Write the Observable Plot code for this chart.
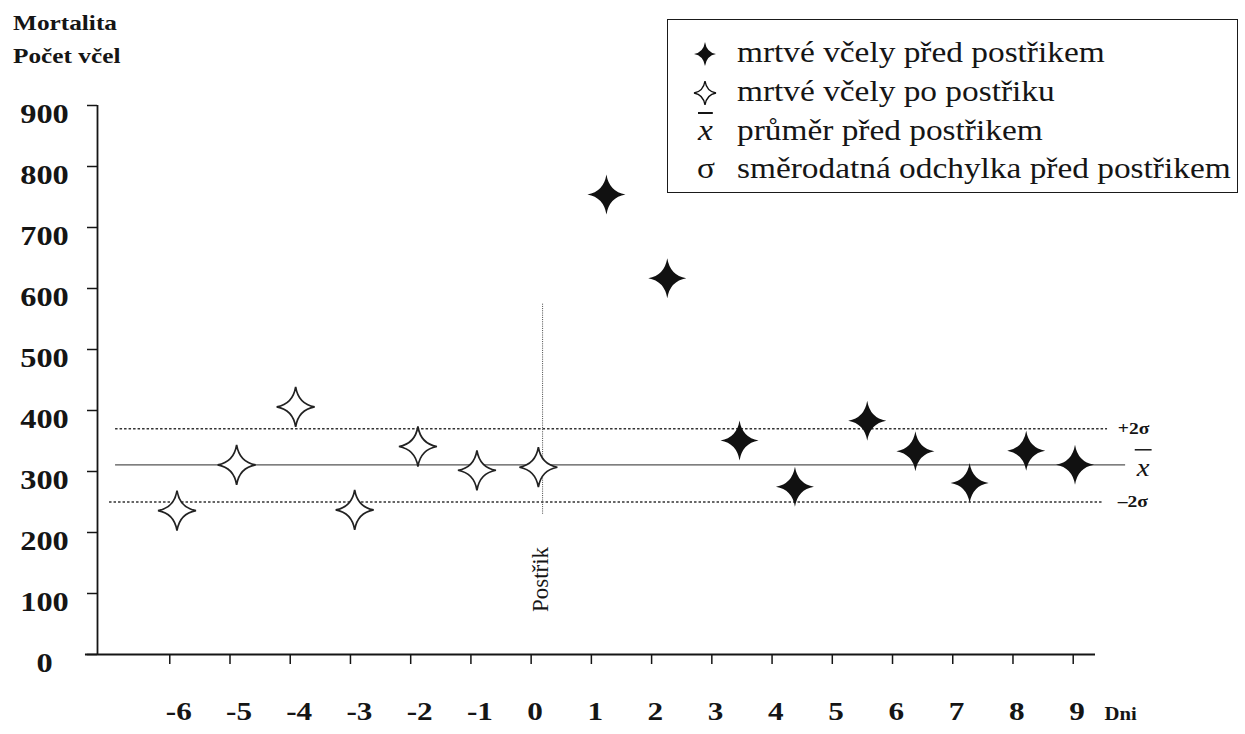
<!DOCTYPE html>
<html><head><meta charset="utf-8">
<script src="https://cdn.jsdelivr.net/npm/d3@7"></script>
<script src="https://cdn.jsdelivr.net/npm/@observablehq/plot@0.6"></script>
<style>
body{margin:0;background:#fff}
#wrap{position:relative;width:1245px;height:734px;overflow:hidden;background:#fff;font-family:"Liberation Serif","Times New Roman",serif;color:#151515}
#chart{position:absolute;left:0;top:0}
.lbl{position:absolute;white-space:nowrap;line-height:1;transform-origin:0 0;font-family:"Liberation Serif","Times New Roman",serif;color:#151515}
#legend{position:absolute;left:667px;top:19px;width:571px;height:174px;border:1.7px solid #1a1a1a;box-sizing:border-box}
</style></head><body>
<div id="wrap"><div id="chart"></div></div>
<script>
// ---------- data ----------
const titleLines = ["Mortalita", "Počet včel"];
const xTicks = [-6, -5, -4, -3, -2, -1, 0, 1, 2, 3, 4, 5, 6, 7, 8, 9];
const yTicks = [0, 100, 200, 300, 400, 500, 600, 700, 800, 900];
const xAxisTitle = "Dni";

// open stars (days -6 .. 0)
const daysOpen = [-5.88, -4.89, -3.91, -2.93, -1.88, -0.90, 0.12];
const beesOpen = [236, 311, 406, 237, 341, 302, 307];
// filled stars (days 1 .. 9)
const daysFilled = [1.25, 2.26, 3.46, 4.38, 5.58, 6.38, 7.28, 8.22, 9.03];
const beesFilled = [754, 617, 351, 275, 383, 333, 281, 334, 311];

// reference levels
const meanValue = 311;
const plus2Sigma = 370;
const minus2Sigma = 250;
const levelLabels = ["+2σ", "x", "–2σ"];

// spray marker
const sprayDay = 0.19;
const sprayRange = [230, 575];
const sprayLabel = "Postřik";
const sprayLabelValue = 123;

const legendLabels = [
  "mrtvé včely před postřikem",
  "mrtvé včely po postřiku",
  "průměr před postřikem",
  "směrodatná odchylka před postřikem"
];

// ---------- layout ----------
const xDomain = [-7.2, 9.4];
const xAxisExtent = [-7.4, 9.37];
const levelStart = -6.9;
const ink = "#151515";
const S = 1.15;      // horizontal stretch of the scanned lettering
const S_TICK = 1.2;  // tick numbers are a little wider still

function drawStar(ctx, rx, ry, c) {
  ctx.moveTo(0, -ry);
  ctx.quadraticCurveTo(c, -c, rx, 0);
  ctx.quadraticCurveTo(c, c, 0, ry);
  ctx.quadraticCurveTo(-c, c, -rx, 0);
  ctx.quadraticCurveTo(-c, -c, 0, -ry);
  ctx.closePath();
}
const star = {draw(ctx, size) { const r = Math.sqrt(size / Math.PI); drawStar(ctx, r * 0.95, r, r * 0.14); }};

const openData = daysOpen.map((d, i) => ({day: d, bees: beesOpen[i]}));
const filledData = daysFilled.map((d, i) => ({day: d, bees: beesFilled[i]}));

const svg = Plot.plot({
  width: 1245, height: 734,
  marginLeft: 97, marginRight: 148.2, marginTop: 105, marginBottom: 80,
  x: {domain: xDomain},
  y: {domain: [0, 900]},
  style: {fontFamily: '"Liberation Serif","Times New Roman",serif', color: ink, background: "transparent", overflow: "visible"},
  marks: [
    // axis lines
    Plot.ruleX([xDomain[0]], {y1: 0, y2: 900, stroke: ink, strokeWidth: 1.8}),
    Plot.ruleY([0], {x1: xAxisExtent[0], x2: xAxisExtent[1], stroke: ink, strokeWidth: 1.8}),
    // ticks
    Plot.axisY({ticks: yTicks, tickSize: 10, fill: "none", stroke: ink, strokeWidth: 1.5, label: null}),
    Plot.axisX({ticks: xTicks, tickSize: 10, fill: "none", stroke: ink, strokeWidth: 1.5, label: null}),
    // tick labels
    Plot.axisY({ticks: yTicks, tickSize: 0, tickPadding: 53, textAnchor: "middle", dy: 9,
      fontSize: 27, fontWeight: "bold", fill: ink, label: null, tickFormat: d => String(d)}),
    Plot.axisX({ticks: xTicks, tickSize: 0, tickPadding: 47.5, textAnchor: "start", dx: -4,
      fontSize: 26, fontWeight: "bold", fill: ink, label: null, tickFormat: d => String(d)}),
    Plot.text([xAxisTitle], {x: 9.52, y: 0, dy: 60, textAnchor: "start", fontSize: 18, fontWeight: "bold", fill: ink}),
    // reference levels
    Plot.ruleY([plus2Sigma], {x1: levelStart, x2: 9.57, stroke: "#333", strokeWidth: 1.4, strokeDasharray: "2.5,2"}),
    Plot.ruleY([minus2Sigma], {x1: levelStart - 0.1, x2: 9.5, stroke: "#333", strokeWidth: 1.4, strokeDasharray: "2.5,2"}),
    Plot.ruleY([meanValue], {x1: levelStart, x2: 9.87, stroke: "#555", strokeWidth: 1.3}),
    Plot.text([levelLabels[0]], {x: 9.74, y: plus2Sigma, textAnchor: "start", fontSize: 17, fontWeight: "bold", fill: ink}),
    Plot.text([levelLabels[2]], {x: 9.74, y: minus2Sigma, textAnchor: "start", fontSize: 17, fontWeight: "bold", fill: ink}),
    Plot.text([levelLabels[1]], {x: 10.16, y: meanValue, dy: 3, fontSize: 25, fontStyle: "italic", fill: ink}),
    Plot.ruleY([meanValue], {x1: 10.03, x2: 10.31, dy: -15, stroke: ink, strokeWidth: 1.5}),
    // spray marker
    Plot.ruleX([sprayDay], {y1: sprayRange[0], y2: sprayRange[1], stroke: "#444", strokeWidth: 1, strokeDasharray: "1,1.2"}),
    Plot.text([sprayLabel], {x: sprayDay - 0.03, y: sprayLabelValue, rotate: -90, fontSize: 23, fill: ink}),
    // data
    Plot.dot(openData, {x: "day", y: "bees", symbol: star, r: 20, fill: "white", stroke: "#222", strokeWidth: 1.7}),
    Plot.dot(filledData, {x: "day", y: "bees", symbol: star, r: 20, fill: "#111", stroke: "none"})
  ]
});

const wrap = document.getElementById("wrap");
document.getElementById("chart").append(svg);

// stretch horizontal lettering like the scan
svg.querySelectorAll("text").forEach(t => {
  if ((t.getAttribute("transform") || "").includes("rotate")) return;
  const L = t.getComputedTextLength();
  const k = /^-?\d+$/.test(t.textContent.trim()) ? S_TICK : S;
  if (L > 0) { t.setAttribute("textLength", (L * k).toFixed(2)); t.setAttribute("lengthAdjust", "spacingAndGlyphs"); }
});

// titles (top left)
function addLabel(text, left, baseline, size, weight, extra = "") {
  const el = document.createElement("div");
  el.className = "lbl";
  el.style.cssText = `left:${left}px;top:${baseline - 0.8375 * size}px;font-size:${size}px;font-weight:${weight};transform:scaleX(${S});font-family:"Liberation Serif","Times New Roman",serif;${extra}`;
  el.textContent = text;
  wrap.append(el);
  return el;
}
addLabel(titleLines[0], 13, 30, 22, "bold");
addLabel(titleLines[1], 13, 63, 22, "bold");

// legend
const legend = document.createElement("div");
legend.id = "legend";
wrap.append(legend);
const baselines = [62, 101, 140, 178];
const legendFont = 29;
function starSvg(filled) {
  const p = d3.path(); drawStar(p, 11, 12, 1.6);
  return `<svg width="28" height="28" viewBox="-14 -14 28 28" style="position:absolute;left:${705 - 14}px;top:0"><path d="${p}" fill="${filled ? "#111" : "white"}" stroke="#111" stroke-width="${filled ? 0 : 1.4}"/></svg>`;
}
legendLabels.forEach((lab, i) => {
  const b = baselines[i];
  addLabel(lab, 737, b, legendFont, "normal");
  if (i < 2) {
    const holder = document.createElement("div");
    holder.style.cssText = `position:absolute;left:0;top:${b - 8 - 14}px;width:0;height:0`;
    holder.innerHTML = starSvg(i === 0);
    wrap.append(holder);
  } else if (i === 2) {
    addLabel("x", 698, b, legendFont, "normal", "font-style:italic;text-decoration:overline;");
  } else {
    addLabel("σ", 697, b, legendFont, "normal");
  }
});
</script>
</body></html>
